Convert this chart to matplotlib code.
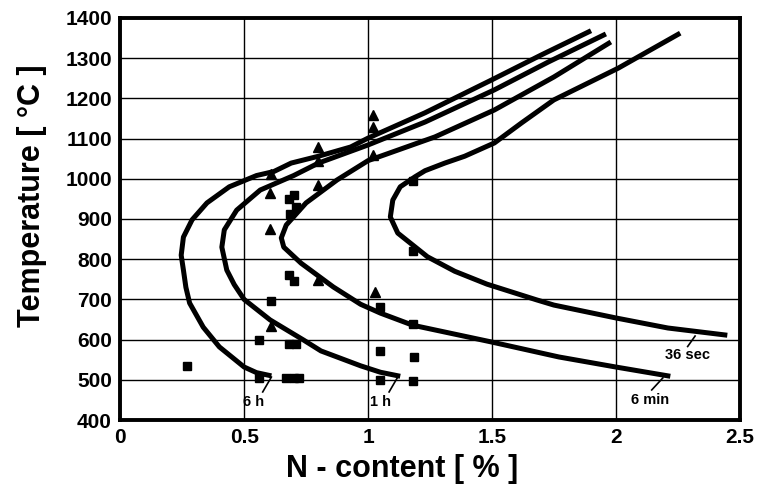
import matplotlib
matplotlib.use("Agg")
import matplotlib.pyplot as plt

plt.rcParams['font.family'] = ['Liberation Sans', 'DejaVu Sans']

# axes ticks
x_ticks = [0, 0.5, 1, 1.5, 2, 2.5]
x_tick_labels = ['0', '0.5', '1', '1.5', '2', '2.5']
y_ticks = [400, 500, 600, 700, 800, 900, 1000, 1100, 1200, 1300, 1400]

# traced curves (N %, temperature), from lower end to upper end
n_6h = [0.61, 0.55, 0.50, 0.40, 0.335, 0.28, 0.265, 0.255, 0.246, 0.255, 0.29, 0.35, 0.44, 0.55,
        0.62, 0.69, 0.80, 0.93, 1.0, 1.23, 1.50, 1.70, 1.90]
t_6h = [510, 518, 532, 582, 631, 691, 730, 773, 810, 855, 898, 940, 980, 1008,
        1018, 1039, 1056, 1079, 1101, 1164, 1246, 1308, 1368]

n_1h = [1.13, 1.05, 0.97, 0.81, 0.74, 0.605, 0.50, 0.46, 0.43, 0.41, 0.42, 0.47, 0.565,
        0.70, 0.80, 1.0, 1.23, 1.51, 1.73, 1.96]
t_1h = [509, 519, 535, 572, 599, 649, 700, 737, 773, 830, 873, 922, 972,
        1008, 1039, 1084, 1141, 1221, 1291, 1360]

n_6min = [2.22, 2.0, 1.77, 1.50, 1.18, 1.05, 0.97, 0.86, 0.73, 0.66, 0.65, 0.67,
          0.75, 0.875, 1.0, 1.27, 1.51, 1.75, 1.98]
t_6min = [509, 532, 557, 594, 636, 666, 688, 731, 790, 830, 853, 885,
          940, 997, 1045, 1104, 1171, 1253, 1340]

n_36s = [2.45, 2.21, 2.0, 1.75, 1.68, 1.48, 1.35, 1.24, 1.12, 1.09, 1.10, 1.13, 1.19,
         1.23, 1.31, 1.39, 1.51, 1.62, 1.75, 2.01, 2.26]
t_36s = [611, 629, 654, 686, 699, 738, 770, 806, 865, 905, 947, 980, 1005,
         1020, 1039, 1056, 1089, 1139, 1196, 1275, 1362]

# measured points
sq_n = [0.27, 0.56, 0.56, 0.61, 0.68, 0.70, 0.68, 0.71, 0.67, 0.70, 0.72,
        0.70, 0.68, 0.71, 0.685, 1.05, 1.18, 1.05, 1.185, 1.05, 1.18, 1.18, 1.18]
sq_t = [535, 600, 505, 695, 760, 745, 590, 590, 505, 505, 505,
        960, 950, 930, 913, 682, 638, 572, 557, 500, 498, 995, 820]

tri_n = [0.61, 0.605, 0.605, 0.61, 0.80, 0.80, 0.80, 0.80, 1.02, 1.02, 1.02, 1.03]
tri_t = [1012, 965, 875, 635, 1080, 1045, 985, 748, 1158, 1128, 1058, 718]

# curve labels: text, text centre, leader line from curve end to label
lab_text = ['6 h', '1 h', '6 min', '36 sec']
lab_n = [0.54, 1.05, 2.14, 2.29]
lab_t = [446, 446, 451, 563]
lead_n0 = [0.61, 1.12, 2.19, 2.32]
lead_t0 = [507, 507, 505, 609]
lead_n1 = [0.575, 1.085, 2.145, 2.29]
lead_t1 = [470, 470, 475, 583]

fig = plt.figure(figsize=(7.61, 4.96), dpi=100)
ax = fig.add_axes([0.158, 0.153, 0.814, 0.811])

for n, t in [(n_6h, t_6h), (n_1h, t_1h), (n_6min, t_6min), (n_36s, t_36s)]:
    ax.plot(n, t, color='black', lw=3.6, solid_joinstyle='round', solid_capstyle='butt', zorder=3)

ax.plot(sq_n, sq_t, 's', color='black', ms=6, zorder=4)
ax.plot(tri_n, tri_t, '^', color='black', ms=6.5, zorder=4)

for i in range(len(lab_text)):
    ax.plot([lead_n0[i], lead_n1[i]], [lead_t0[i], lead_t1[i]], color='black', lw=1.2, zorder=4)
    ax.text(lab_n[i], lab_t[i], lab_text[i], ha='center', va='center', fontsize=10.5, fontweight='bold')

ax.set_xlim(0, 2.5)
ax.set_ylim(400, 1400)
ax.set_xticks(x_ticks)
ax.set_xticklabels(x_tick_labels)
ax.set_yticks(y_ticks)
ax.grid(True, color='black', lw=1.0)
ax.set_axisbelow(True)
ax.tick_params(length=0, labelsize=15, pad=6)
for lbl in ax.get_xticklabels() + ax.get_yticklabels():
    lbl.set_fontweight('bold')
for sp in ax.spines.values():
    sp.set_linewidth(2.8)
    sp.set_zorder(5)

ax.set_xlabel('N - content [ % ]', fontsize=22, fontweight='bold')
ax.set_ylabel('Temperature [ °C ]', fontsize=22, fontweight='bold')
ax.xaxis.set_label_coords(0.455, -0.085)
ax.yaxis.set_label_coords(-0.118, 0.557)

fig.savefig('out.png', dpi=100)
